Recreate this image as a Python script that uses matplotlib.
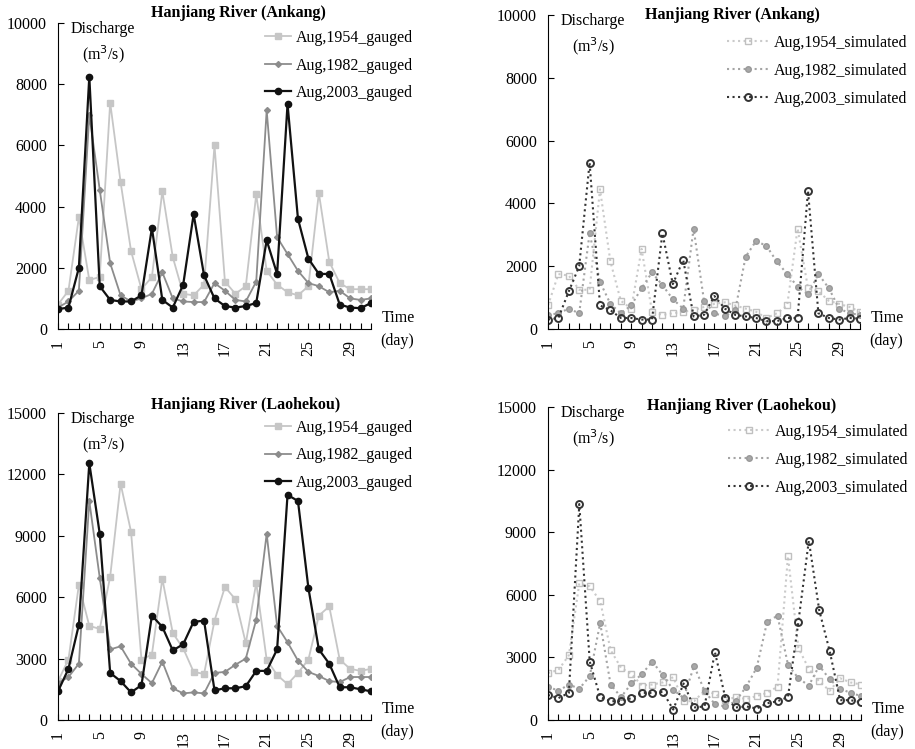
import numpy as np
import matplotlib
matplotlib.use('Agg')
import matplotlib.pyplot as plt

days = list(range(1, 32))
day_labels = [str(d) if (d - 1) % 4 == 0 else '' for d in days]

# Ankang, gauged
ank_g_1954 = [800, 1250, 3650, 1600, 1700, 7400, 4800, 2550, 1300, 1700, 4500, 2350, 1150, 1100, 1450, 6000,
              1550, 1150, 1400, 4400, 1900, 1450, 1200, 1100, 1400, 4450, 2200, 1500, 1300, 1300, 1300]
ank_g_1982 = [700, 900, 1250, 7000, 4550, 2150, 1100, 900, 1000, 1150, 1850, 1000, 900, 880, 880, 1500,
              1250, 950, 900, 1550, 7150, 3000, 2450, 1900, 1500, 1400, 1200, 1250, 1000, 950, 1000]
ank_g_2003 = [650, 700, 2000, 8250, 1400, 950, 900, 900, 1100, 3300, 950, 700, 1450, 3750, 1750, 1000,
              750, 700, 750, 850, 2900, 1800, 7350, 3600, 2300, 1800, 1800, 800, 700, 680, 850]

# Ankang, simulated
ank_s_1954 = [750, 1750, 1700, 1250, 1250, 4450, 2150, 900, 650, 2550, 550, 450, 500, 550, 600, 700,
              800, 850, 750, 650, 550, 350, 500, 750, 3200, 1300, 1200, 900, 800, 700, 550]
ank_s_1982 = [450, 500, 650, 500, 3050, 1500, 800, 500, 750, 1300, 1800, 1400, 950, 650, 3200, 900,
              500, 400, 600, 2300, 2800, 2650, 2150, 1750, 1350, 1100, 1750, 1300, 650, 500, 450]
ank_s_2003 = [300, 350, 1200, 2000, 5300, 750, 600, 350, 350, 300, 300, 3050, 1430, 2200, 400, 450,
              1050, 650, 450, 400, 350, 250, 250, 350, 350, 4400, 500, 350, 300, 350, 330]

# Laohekou, gauged
lao_g_1954 = [1900, 2950, 6600, 4600, 4450, 7000, 11550, 9200, 2950, 3200, 6900, 4250, 3500, 2350, 2250, 4850,
              6500, 5900, 3750, 6700, 2950, 2200, 1750, 2300, 2950, 5100, 5550, 2950, 2500, 2400, 2500]
lao_g_1982 = [1800, 2100, 2750, 10700, 6950, 3450, 3600, 2750, 2250, 1800, 2850, 1550, 1300, 1350, 1300, 2300,
              2350, 2700, 3000, 4900, 9100, 4600, 3800, 2900, 2350, 2150, 1900, 1850, 2100, 2100, 2100]
lao_g_2003 = [1400, 2500, 4650, 12550, 9100, 2300, 1900, 1350, 1700, 5100, 4550, 3400, 3700, 4800, 4850, 1450,
              1550, 1550, 1650, 2400, 2400, 3450, 11000, 10700, 6450, 3450, 2750, 1600, 1600, 1500, 1400]

# Laohekou, simulated
lao_s_1954 = [2250, 2400, 3100, 6550, 6400, 5700, 3350, 2500, 2200, 1650, 1700, 1800, 2050, 900, 900, 1400,
              1250, 950, 1100, 1000, 1150, 1300, 1600, 7850, 3450, 2450, 1850, 1400, 2000, 1800, 1700]
lao_s_1982 = [1600, 1400, 1700, 1500, 2100, 4650, 1700, 1100, 1750, 2200, 2800, 2150, 1450, 1050, 2600, 1400,
              750, 650, 900, 1600, 2500, 4700, 5000, 2650, 2000, 1650, 2600, 1950, 1500, 1300, 1150]
lao_s_2003 = [1200, 1050, 1300, 10350, 2800, 1100, 900, 900, 1050, 1300, 1300, 1350, 500, 1750, 600, 650,
              3250, 1050, 600, 650, 550, 800, 900, 1100, 4700, 8600, 5250, 3300, 950, 950, 850]

plt.rcParams['font.family'] = 'Liberation Serif'
plt.rcParams['font.size'] = 11.5

fig = plt.figure(figsize=(9.15, 7.49), dpi=100)


def setup(ax, title, ymax, ystep, tx, ty):
    ax.set_xlim(1, 31)
    ax.set_ylim(0, ymax)
    ax.spines['top'].set_visible(False)
    ax.spines['right'].set_visible(False)
    ax.set_xticks(days)
    ax.set_xticklabels(day_labels, rotation=90)
    ax.set_yticks(np.arange(0, ymax + 1, ystep))
    ax.tick_params(direction='in', length=4, width=0.8)
    ax.tick_params(axis='x', pad=8)
    ax.tick_params(axis='y', pad=8)
    ax.text(tx, ty, title, transform=ax.transAxes, ha='center', va='center', fontweight='bold')
    ax.text(0.04, 0.98, 'Discharge', transform=ax.transAxes, ha='left', va='center')
    ax.text(0.145, 0.9, '(m$^3$/s)', transform=ax.transAxes, ha='center', va='center')
    ax.text(1.035, 0.035, 'Time', transform=ax.transAxes, ha='left', va='center')
    ax.text(1.03, -0.038, '(day)', transform=ax.transAxes, ha='left', va='center')


def gauged(ax, s1954, s1982, s2003, leg_xy):
    ax.plot(days, s1954, color='#c6c6c6', lw=1.3, marker='s', ms=4, label='Aug,1954_gauged')
    ax.plot(days, s1982, color='#8c8c8c', lw=1.3, marker='D', ms=3, label='Aug,1982_gauged')
    ax.plot(days, s2003, color='#111111', lw=1.6, marker='o', ms=4.5, label='Aug,2003_gauged')
    ax.legend(loc='upper left', bbox_to_anchor=leg_xy, bbox_transform=fig.transFigure, frameon=False,
              handlelength=1.6, handletextpad=0.35, labelspacing=0.72, borderpad=0, borderaxespad=0)


def simulated(ax, s1954, s1982, s2003, leg_xy):
    ax.plot(days, s1954, color='#cacaca', lw=1.5, ls=':', marker='s', ms=5, mfc='none', mec='#c0c0c0',
            label='Aug,1954_simulated')
    ax.plot(days, s1982, color='#a4a4a4', lw=1.5, ls=':', marker='o', ms=4, mfc='#a8a8a8', mec='#999999',
            label='Aug,1982_simulated')
    ax.plot(days, s2003, color='#333333', lw=1.5, ls=':', marker='o', ms=5, mfc='none', mec='#333333',
            mew=1.4, label='Aug,2003_simulated')
    ax.legend(loc='upper left', bbox_to_anchor=leg_xy, bbox_transform=fig.transFigure, frameon=False,
              handlelength=2.6, handletextpad=0.35, labelspacing=0.75, borderpad=0, borderaxespad=0)


ax1 = fig.add_axes([58 / 915, 1 - 329 / 749, 313 / 915, 306 / 749])
setup(ax1, 'Hanjiang River (Ankang)', 10000, 2000, 0.575, 1.033)
gauged(ax1, ank_g_1954, ank_g_1982, ank_g_2003, (265 / 915, 1 - 30 / 749))

ax2 = fig.add_axes([548 / 915, 1 - 329 / 749, 312 / 915, 314 / 749])
setup(ax2, 'Hanjiang River (Ankang)', 10000, 2000, 0.59, 1.0)
simulated(ax2, ank_s_1954, ank_s_1982, ank_s_2003, (727 / 915, 1 - 35 / 749))

ax3 = fig.add_axes([58 / 915, 1 - 720 / 749, 313 / 915, 307 / 749])
setup(ax3, 'Hanjiang River (Laohekou)', 15000, 3000, 0.6, 1.027)
gauged(ax3, lao_g_1954, lao_g_1982, lao_g_2003, (265 / 915, 1 - 420 / 749))

ax4 = fig.add_axes([548 / 915, 1 - 720 / 749, 313 / 915, 313 / 749])
setup(ax4, 'Hanjiang River (Laohekou)', 15000, 3000, 0.618, 1.002)
simulated(ax4, lao_s_1954, lao_s_1982, lao_s_2003, (728 / 915, 1 - 424 / 749))

fig.savefig('out.png', dpi=100)
